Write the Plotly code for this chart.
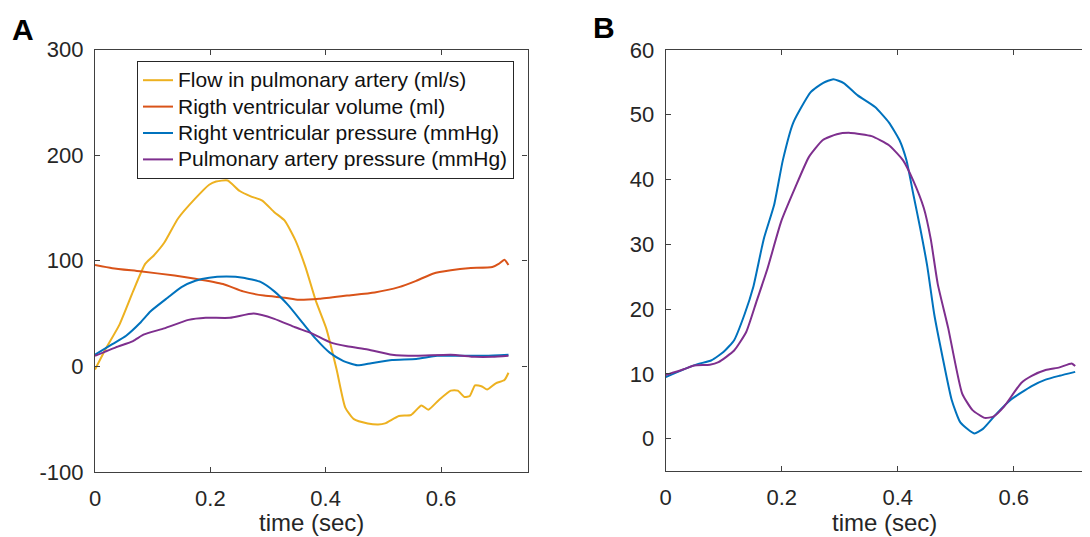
import plotly.graph_objects as go

# ---------------- Panel A data ----------------
flow_t = [0, 0.018, 0.042, 0.066, 0.087, 0.102, 0.12, 0.144, 0.174, 0.198, 0.21, 0.23, 0.251, 0.27,
          0.29, 0.311, 0.329, 0.347, 0.365, 0.383, 0.401, 0.419, 0.434, 0.449, 0.473, 0.491, 0.503,
          0.527, 0.548, 0.566, 0.578, 0.596, 0.617, 0.629, 0.641, 0.65, 0.659, 0.671, 0.68, 0.695,
          0.71, 0.717]
flow_v = [-3, 16, 39, 71, 97, 105, 117, 140, 159, 172, 175, 176, 166, 161,
          157, 146, 138, 120, 94, 62, 36, -3, -39, -50, -54, -55, -54,
          -47, -46, -37, -41, -32, -23, -23, -29, -28, -18, -19, -22, -16,
          -13, -6]

vol_t = [0, 0.03, 0.078, 0.138, 0.174, 0.222, 0.257, 0.293, 0.329, 0.353, 0.389, 0.437, 0.485,
         0.527, 0.557, 0.587, 0.617, 0.647, 0.689, 0.70, 0.71, 0.717]
vol_v = [96, 93, 90, 86, 83, 78, 71, 67, 65, 63, 64, 67, 70,
         75, 81, 88, 91, 93, 94, 97, 101, 96]

rvp_a_t = [0, 0.03, 0.054, 0.078, 0.096, 0.126, 0.15, 0.174, 0.198, 0.228, 0.257, 0.287, 0.311,
           0.335, 0.359, 0.383, 0.407, 0.431, 0.455, 0.479, 0.515, 0.557, 0.593, 0.629, 0.677, 0.717]
rvp_a_v = [11, 21, 29, 41, 52, 65, 75, 81, 84, 85, 84, 80, 71,
           58, 42, 26, 13, 5, 1, 3, 6, 7, 10, 10, 10, 11]

pap_a_t = [0, 0.036, 0.066, 0.084, 0.12, 0.162, 0.192, 0.234, 0.275, 0.311, 0.347, 0.377, 0.407,
           0.437, 0.473, 0.515, 0.557, 0.617, 0.659, 0.689, 0.717]
pap_a_v = [10, 18, 24, 30, 36, 44, 46, 46, 50, 45, 37, 31, 23,
           19, 16, 11, 10, 11, 9, 9, 10]

# ---------------- Panel B data ----------------
rvp_b_t = [0, 0.031, 0.055, 0.079, 0.1, 0.118, 0.136, 0.151, 0.169, 0.187, 0.202, 0.22, 0.25,
           0.271, 0.289, 0.307, 0.331, 0.361, 0.385, 0.403, 0.415, 0.427, 0.439, 0.451, 0.463,
           0.478, 0.493, 0.508, 0.532, 0.547, 0.571, 0.595, 0.631, 0.655, 0.679, 0.706]
rvp_b_v = [9.5, 10.7, 11.5, 12.1, 13.4, 15.2, 19.2, 23.4, 30.8, 36.1, 43, 48.8, 53.5,
           54.9, 55.5, 54.9, 53, 51.2, 48.8, 46.1, 43, 37.7, 32.4, 26.6, 19.2,
           12.3, 6, 2.5, 0.8, 1.5, 3.9, 6, 8.1, 9.1, 9.7, 10.3]

pap_b_t = [0, 0.031, 0.049, 0.076, 0.091, 0.118, 0.139, 0.157, 0.175, 0.199, 0.223, 0.247, 0.271,
           0.295, 0.319, 0.355, 0.385, 0.409, 0.427, 0.445, 0.457, 0.469, 0.487, 0.511, 0.529,
           0.55, 0.565, 0.583, 0.613, 0.631, 0.655, 0.679, 0.7, 0.706]
pap_b_v = [9.8, 10.7, 11.3, 11.4, 11.8, 13.6, 16.5, 21.3, 26.1, 33.5, 38.7, 43.5, 46.1,
           47, 47.2, 46.7, 45.3, 43, 39.8, 35.6, 30.8, 23.9, 17.1, 7, 4.4,
           3.2, 3.4, 4.9, 8.6, 9.7, 10.6, 11, 11.6, 11.2]

names = ["Flow in pulmonary artery (ml/s)", "Rigth ventricular volume (ml)",
         "Right ventricular pressure (mmHg)", "Pulmonary artery pressure (mmHg)"]
x_ticks = [0, 0.2, 0.4, 0.6]
x_tick_text = ["0", "0.2", "0.4", "0.6"]
ya_ticks = [-100, 0, 100, 200, 300]
ya_tick_text = ["-100", "0", "100", "200", "300"]
yb_ticks = [0, 10, 20, 30, 40, 50, 60]
yb_tick_text = ["0", "10", "20", "30", "40", "50", "60"]

C_YEL = "#EDB120"
C_ORA = "#D95319"
C_BLU = "#0072BD"
C_PUR = "#7E2F8E"

# page body has an 8px margin: the figure is drawn 8px in from the window corner
OFF = 8
VW, VH = 1090, 537
W, H = VW - OFF, VH - OFF


def px(x):
    return (x - OFF) / W


def py(y):
    return 1 - (y - OFF) / H


FONT = "Liberation Sans, Arial, Helvetica, sans-serif"
AX = "#404040"
TXT = "#262626"


def leg(name):
    # legend text drawn a bit larger than the row pitch font, giving tighter rows
    return '<span style="font-size:21px">' + name + "</span>"


fig = go.Figure()
lw = 2
ln = dict(shape="spline", smoothing=0.5, width=lw)
fig.add_trace(go.Scatter(x=flow_t, y=flow_v, mode="lines", name=leg(names[0]),
                         line=dict(color=C_YEL, **ln), xaxis="x", yaxis="y"))
fig.add_trace(go.Scatter(x=vol_t, y=vol_v, mode="lines", name=leg(names[1]),
                         line=dict(color=C_ORA, **ln), xaxis="x", yaxis="y"))
fig.add_trace(go.Scatter(x=rvp_a_t, y=rvp_a_v, mode="lines", name=leg(names[2]),
                         line=dict(color=C_BLU, **ln), xaxis="x", yaxis="y"))
fig.add_trace(go.Scatter(x=pap_a_t, y=pap_a_v, mode="lines", name=leg(names[3]),
                         line=dict(color=C_PUR, **ln), xaxis="x", yaxis="y"))
fig.add_trace(go.Scatter(x=rvp_b_t, y=rvp_b_v, mode="lines", showlegend=False,
                         line=dict(color=C_BLU, **ln), xaxis="x2", yaxis="y2"))
fig.add_trace(go.Scatter(x=pap_b_t, y=pap_b_v, mode="lines", showlegend=False,
                         line=dict(color=C_PUR, **ln), xaxis="x2", yaxis="y2"))

common = dict(showgrid=False, zeroline=False, showline=True, linecolor=AX, linewidth=1.3,
              ticks="inside", ticklen=5, tickcolor=AX, tickwidth=1, automargin=False,
              tickfont=dict(family=FONT, size=22, color=TXT), ticklabelstandoff=6)

B_RIGHT_X = (VW - 665.7) / 580.0

fig.update_layout(
    template="none",
    width=W, height=H,
    margin=dict(l=0, r=0, t=0, b=0, pad=0),
    paper_bgcolor="white", plot_bgcolor="white",
    font=dict(family=FONT, color=TXT),
    xaxis=dict(domain=[px(95), px(527.5)], range=[0, 0.75], tickvals=x_ticks, ticktext=x_tick_text,
               anchor="y", mirror="ticks", **common),
    yaxis=dict(domain=[py(472), py(49.5)], range=[-100, 300], tickvals=ya_ticks,
               ticktext=ya_tick_text, anchor="x", mirror="ticks", **common),
    xaxis2=dict(domain=[px(665.7), 1.0], range=[0, B_RIGHT_X], tickvals=x_ticks,
                ticktext=x_tick_text, anchor="y2", mirror="ticks", **common),
    yaxis2=dict(domain=[py(471), py(50)], range=[-5, 60], tickvals=yb_ticks,
                ticktext=yb_tick_text, anchor="x2", mirror=False, **common),
    legend=dict(x=px(137), y=py(61), xanchor="left", yanchor="top",
                bgcolor="white", bordercolor="#262626", borderwidth=1,
                font=dict(family=FONT, size=18, color="#111111"),
                tracegroupgap=0, itemwidth=30),
    showlegend=True,
)

annotations = [
    dict(text="time (sec)", x=px(311), y=py(522), xref="paper", yref="paper",
         showarrow=False, font=dict(family=FONT, size=24, color=TXT), xanchor="center", yanchor="middle"),
    dict(text="time (sec)", x=px(884), y=py(522), xref="paper", yref="paper",
         showarrow=False, font=dict(family=FONT, size=24, color=TXT), xanchor="center", yanchor="middle"),
    dict(text="<b>A</b>", x=px(23), y=py(29), xref="paper", yref="paper",
         showarrow=False, font=dict(family=FONT, size=30, color="black"), xanchor="center", yanchor="middle"),
    dict(text="<b>B</b>", x=px(604), y=py(27), xref="paper", yref="paper",
         showarrow=False, font=dict(family=FONT, size=30, color="black"), xanchor="center", yanchor="middle"),
]
fig.update_layout(annotations=annotations)

fig.write_html("out.html")
